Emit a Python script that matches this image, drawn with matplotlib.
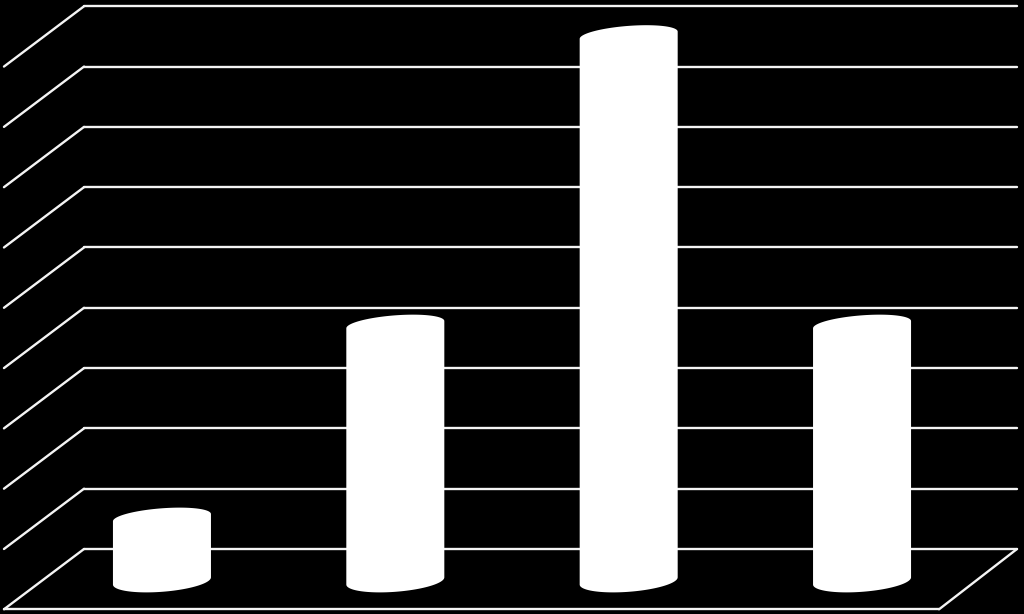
import numpy as np
import matplotlib
matplotlib.use('Agg')
import matplotlib.pyplot as plt

categories = [0, 1, 2, 3]
values = [1.05, 4.25, 9.05, 4.25]
grid_levels = [0, 1, 2, 3, 4, 5, 6, 7, 8, 9]

## fake 3d: floor depth and cylinder shape, in data units
DEPTH_X = 0.343
DEPTH_Y = 1.0
BAR_HALF = 0.21
BAR_FLOOR = 0.53
CAP_B = 0.155
BOTTOM_B = 0.18
CAP_TILT = 0.06

fig = plt.figure(figsize=(10.24, 6.14), dpi=100, facecolor='black')
ax = fig.add_axes([0, 0, 1, 1], facecolor='black')
ax.set_xlim(-0.694, 3.694)
ax.set_ylim(-1.078, 9.104)
ax.axis('off')

## back wall and side wall lines
wall_left = -0.334
wall_right = 3.664
line_kw = dict(color='#f4f4f4', lw=1.7, solid_capstyle='round', zorder=1)
for level in grid_levels:
    ax.plot([wall_left, wall_right], [level, level], **line_kw)
    ax.plot([wall_left, wall_left - DEPTH_X], [level, level - DEPTH_Y], **line_kw)

## floor front edge and right edge
ax.plot([wall_left - DEPTH_X, wall_right - 0.334], [-DEPTH_Y, -DEPTH_Y], **line_kw)
ax.plot([wall_right, wall_right - 0.334], [0, -DEPTH_Y], **line_kw)

## cylinders
t = np.linspace(0, np.pi, 60)
for cat, val in zip(categories, values):
    base = -BAR_FLOOR
    top = base + val
    top_x = cat + BAR_HALF * np.cos(t)
    top_y = top + CAP_B * np.sin(t) + CAP_TILT * np.cos(t)
    bot_x = cat + BAR_HALF * np.cos(t + np.pi)
    bot_y = base + BOTTOM_B * np.sin(t + np.pi) + CAP_TILT * np.cos(t + np.pi)
    ax.fill(np.r_[top_x, bot_x], np.r_[top_y, bot_y], color='white', lw=0, zorder=2)

fig.savefig('out.png', dpi=100, facecolor='black')
